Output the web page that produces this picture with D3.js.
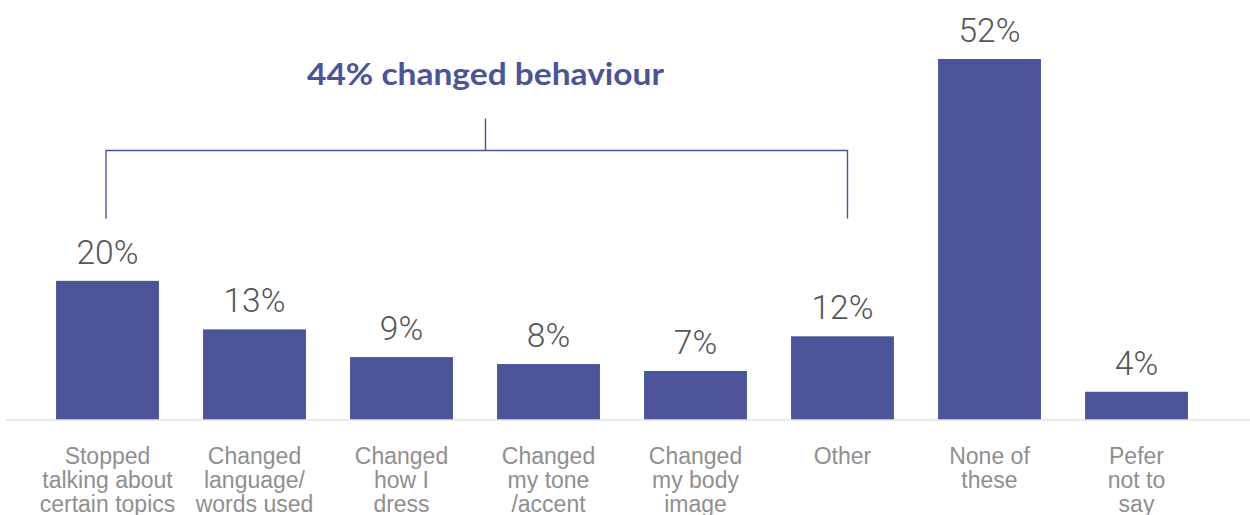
<!DOCTYPE html>
<html>
<head>
<meta charset="utf-8">
<script src="https://cdn.jsdelivr.net/npm/d3@7"></script>
<style>
  html, body { margin: 0; padding: 0; background: #ffffff; }
  svg { display: block; }
</style>
</head>
<body>
<svg id="chart" width="1250" height="515"></svg>
<script>
// Survey responses: how people changed their behaviour
const categories = [
  "Stopped talking about certain topics",
  "Changed language/ words used",
  "Changed how I dress",
  "Changed my tone /accent",
  "Changed my body image",
  "Other",
  "None of these",
  "Pefer not to say"
];
const labelLines = [
  ["Stopped", "talking about", "certain topics"],
  ["Changed", "language/", "words used"],
  ["Changed", "how I", "dress"],
  ["Changed", "my tone", "/accent"],
  ["Changed", "my body", "image"],
  ["Other"],
  ["None of", "these"],
  ["Pefer", "not to", "say"]
];
const values = [20, 13, 9, 8, 7, 12, 52, 4];
const bracketTitle = "44% changed behaviour";
const bracketFrom = 0;   // first bracketed category index
const bracketTo = 5;     // last bracketed category index

const W = 1250, H = 515;
const baseY = 419.5;
const topY = 59;
const barColor = "#4b5499";

const svg = d3.select("#chart");

const x = d3.scaleBand()
  .domain(categories)
  .range([34, 1210])
  .paddingInner(0.3)
  .paddingOuter(0.15);

const y = d3.scaleLinear()
  .domain([0, d3.max(values)])
  .range([baseY, topY]);

const data = categories.map((c, i) => ({ cat: c, value: values[i], lines: labelLines[i] }));

// bars
svg.append("g")
  .selectAll("rect")
  .data(data)
  .join("rect")
  .attr("x", d => x(d.cat))
  .attr("y", d => y(d.value))
  .attr("width", x.bandwidth())
  .attr("height", d => y(0) - y(d.value))
  .attr("fill", barColor);

// baseline
svg.append("line")
  .attr("x1", 6).attr("x2", W)
  .attr("y1", baseY + 0.5).attr("y2", baseY + 0.5)
  .attr("stroke", "#d6d6d6")
  .attr("stroke-width", 1.2);

// value labels
svg.append("g")
  .selectAll("text")
  .data(data)
  .join("text")
  .attr("x", d => x(d.cat) + x.bandwidth() / 2)
  .attr("y", d => y(d.value) - 17)
  .attr("text-anchor", "middle")
  .attr("font-family", "Roboto, 'Liberation Sans', sans-serif")
  .attr("font-weight", 300)
  .attr("font-size", 33.5)
  .attr("fill", "#555555")
  .text(d => d.value + "%");

// category labels
const cat = svg.append("g")
  .selectAll("text")
  .data(data)
  .join("text")
  .attr("text-anchor", "middle")
  .attr("font-family", "'Liberation Sans', Arial, sans-serif")
  .attr("font-size", 23)
  .attr("fill", "#8f8f8f");
cat.selectAll("tspan")
  .data(d => d.lines.map(l => ({ l, cx: x(d.cat) + x.bandwidth() / 2 })))
  .join("tspan")
  .attr("x", t => t.cx)
  .attr("y", (t, i) => 463.5 + i * 24)
  .text(t => t.l);

// bracket over the categories that count as a change in behaviour
const bx1 = x(categories[bracketFrom]) + x.bandwidth() / 2 - 1.5;
const bx2 = x(categories[bracketTo]) + x.bandwidth() / 2 + 5;
const bracketY = 150.5, legY = 218.5;
const tickX = 485.5, tickTop = 118.5;
svg.append("path")
  .attr("d", `M${bx1},${legY}V${bracketY}H${bx2}V${legY}M${tickX},${tickTop}V${bracketY}`)
  .attr("fill", "none")
  .attr("stroke", "#4b5499")
  .attr("stroke-width", 1.4);

svg.append("text")
  .attr("x", tickX)
  .attr("y", 85)
  .attr("text-anchor", "middle")
  .attr("font-family", "Lato, 'Open Sans', sans-serif")
  .attr("font-weight", 700)
  .attr("font-size", 31)
  .attr("textLength", 357)
  .attr("lengthAdjust", "spacingAndGlyphs")
  .attr("fill", "#4b5499")
  .text(bracketTitle);
</script>
</body>
</html>
